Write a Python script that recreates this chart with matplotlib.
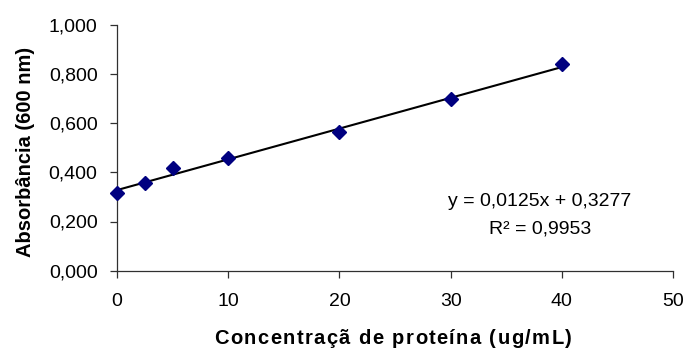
import matplotlib
matplotlib.use("Agg")
import matplotlib.pyplot as plt
import numpy as np

plt.rcParams['font.family'] = ['Liberation Sans', 'DejaVu Sans']

conc = [0, 2.5, 5, 10, 20, 30, 40]
absorb = [0.317, 0.358, 0.416, 0.457, 0.562, 0.700, 0.839]
slope = 0.0125
intercept = 0.3277
r2 = 0.9953
xticks = [0, 10, 20, 30, 40, 50]
yticks = [0.0, 0.2, 0.4, 0.6, 0.8, 1.0]
xlabel = 'Concentraçã de proteína (ug/mL)'
ylabel = 'Absorbância (600 nm)'

W, H, DPI = 687, 354, 100
fig = plt.figure(figsize=(W / DPI, H / DPI), dpi=DPI)
ax = fig.add_axes([117 / W, 1 - 270.7 / H, 556 / W, 246 / H])

fx = np.array([min(conc), max(conc)])
ax.plot(fx, slope * fx + intercept, color='black', lw=1.5, zorder=2)
ax.plot(conc, absorb, linestyle='none', marker='D', markersize=7.5,
        color='#000080', zorder=3, clip_on=False)

ax.set_xlim(0, 50)
ax.set_ylim(0, 1.0)
ax.set_xticks(xticks)
ax.set_yticks(yticks)
ax.set_yticklabels([f"{v:.3f}".replace('.', ',') for v in yticks])
ax.spines['top'].set_visible(False)
ax.spines['right'].set_visible(False)
for s in ('left', 'bottom'):
    ax.spines[s].set_linewidth(0.9)
    ax.spines[s].set_color('#303030')
ax.tick_params(axis='both', direction='out', length=5, width=0.9,
               labelsize=14, color='#303030')
ax.tick_params(axis='x', pad=11)
ax.tick_params(axis='y', pad=9)

fs = 14.5
ax.set_ylabel(ylabel, fontsize=fs, fontweight='bold')
ax.yaxis.set_label_coords(-(117 - 35) / 556, (270.7 - 152) / 246)

# x label with wide letter tracking
renderer = fig.canvas.get_renderer()
track = 1.4


def text_width(s):
    t = fig.text(0, 0, s, fontsize=fs, fontweight='bold')
    w = t.get_window_extent(renderer).width
    t.remove()
    return w


xw = text_width('x')
positions = []
for i in range(len(xlabel)):
    pre = xlabel[:i]
    px = (text_width(pre + 'x') - xw if pre else 0.0) + i * track
    positions.append(px)
total = positions[-1] + text_width(xlabel[-1])
start = 393 - total / 2
for ch, p in zip(xlabel, positions):
    if ch == ' ':
        continue
    fig.text((start + p) / W, (H - 344) / H, ch, fontsize=fs,
             fontweight='bold', ha='left', va='baseline')

ax.text(0.761, 0.283, 'y = 0,0125x + 0,3277', transform=ax.transAxes,
        ha='center', va='center', fontsize=14)
ax.text(0.761, 0.170, 'R² = 0,9953', transform=ax.transAxes,
        ha='center', va='center', fontsize=14)

fig.savefig('out.png', dpi=DPI)
